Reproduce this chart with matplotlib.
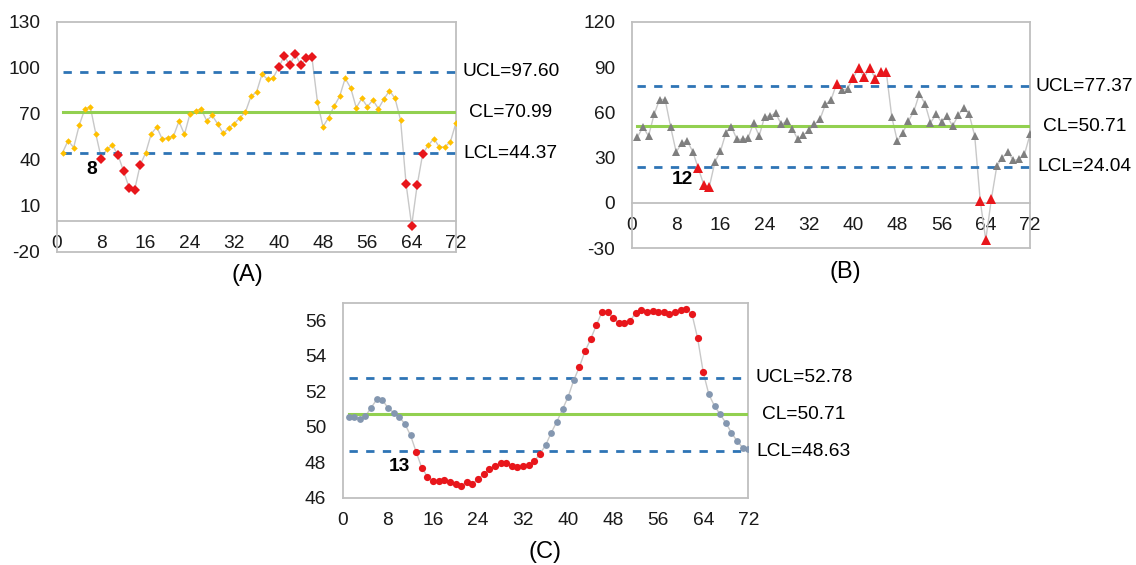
import matplotlib
matplotlib.use('Agg')
import matplotlib.pyplot as plt
import matplotlib.transforms as mtransforms
import numpy as np

plt.rcParams['font.family'] = ['Liberation Sans', 'DejaVu Sans']
plt.rcParams['axes.unicode_minus'] = False

# sample index 1..72
x = np.arange(1, 73)

# (A) diamonds
vals_a = [44.7, 52.5, 48.0, 62.5, 73.0, 74.7, 56.9, 40.8, 47.1, 49.5,
          43.2, 32.7, 21.9, 20.3, 36.6, 44.5, 56.9, 61.4, 53.4, 54.5,
          55.3, 65.1, 56.6, 70.1, 71.9, 73.2, 65.6, 69.0, 63.4, 57.3,
          60.8, 63.6, 67.5, 71.2, 81.4, 84.2, 96.0, 92.5, 93.4, 100.4,
          107.7, 101.9, 109.0, 101.9, 106.2, 106.9, 77.7, 61.6, 67.5, 74.9,
          81.4, 93.2, 86.9, 74.0, 80.1, 74.7, 79.0, 73.4, 79.7, 85.1,
          80.1, 66.0, 24.0, -2.9, 23.6, 44.0, 49.5, 53.8, 48.4, 48.4,
          51.9, 64.2]
limits_a = [97.60, 70.99, 44.37]

# (B) triangles
vals_b = [43.7, 50.3, 44.3, 58.6, 68.5, 68.5, 50.3, 33.7, 39.5, 41.0,
          34.0, 23.0, 12.0, 10.8, 27.1, 34.2, 46.5, 50.3, 42.1, 42.1,
          43.0, 53.1, 44.3, 57.1, 57.5, 59.7, 52.0, 54.2, 49.2, 42.1,
          45.0, 48.3, 52.0, 55.3, 65.3, 68.1, 78.9, 74.7, 75.6, 82.7,
          89.5, 83.1, 89.5, 82.4, 86.8, 86.8, 56.9, 41.0, 46.5, 54.2,
          60.8, 72.3, 65.7, 53.1, 58.6, 53.6, 57.5, 50.9, 58.0, 63.0,
          58.6, 44.3, 1.3, -24.4, 2.4, 24.5, 30.0, 33.7, 28.2, 28.9,
          32.2, 45.4]
limits_b = [77.37, 50.71, 24.04]

# (C) circles
vals_c = [50.58, 50.58, 50.43, 50.62, 51.08, 51.55, 51.51, 51.08, 50.80, 50.56,
          50.17, 49.53, 48.60, 47.70, 47.21, 46.93, 46.93, 47.00, 46.88, 46.78,
          46.69, 46.88, 46.80, 47.07, 47.35, 47.66, 47.78, 47.96, 47.96, 47.81,
          47.76, 47.78, 47.85, 48.06, 48.50, 48.97, 49.68, 50.30, 50.99, 51.70,
          52.64, 53.38, 54.26, 54.95, 55.72, 56.47, 56.47, 56.13, 55.85, 55.85,
          55.98, 56.41, 56.60, 56.50, 56.54, 56.50, 56.47, 56.35, 56.45, 56.60,
          56.63, 56.35, 55.00, 53.08, 51.83, 51.18, 50.71, 50.24, 49.68, 49.21,
          48.84, 48.75]
limits_c = [52.78, 50.71, 48.63]

xticks = np.arange(0, 73, 8)
GREY = '#BFBFBF'
RED = '#E8161B'
FS = 13.8

fig = plt.figure(figsize=(11.36, 5.65), dpi=100)


def panel(rect, vals, limits, ylim, yticks, marker, color, ms, red_ms, zero_axis, note, note_xy, tag, tag_xy):
    ax = fig.add_axes(rect)
    v = np.array(vals)
    ucl, cl, lcl = limits
    out = (v > ucl) | (v < lcl)

    ax.plot(x, v, color='#C8C8C8', lw=1.0, zorder=2)
    ax.plot([x[0], x[-1]], [ucl, ucl], color='#2E74B5', lw=2.0, dashes=(3, 3), zorder=3)
    ax.plot([x[0], x[-1]], [lcl, lcl], color='#2E74B5', lw=2.0, dashes=(3, 3), zorder=3)
    ax.plot([x[0], x[-1]], [cl, cl], color='#92D050', lw=2.2, zorder=3)
    ax.plot(x[~out], v[~out], ls='none', marker=marker, color=color, ms=ms, mew=0, zorder=4)
    ax.plot(x[out], v[out], ls='none', marker=marker, color=RED, ms=red_ms, mew=0, zorder=5)

    ax.set_xlim(0, 72)
    ax.set_ylim(*ylim)
    ax.set_xticks(xticks)
    ax.set_yticks(yticks)
    ax.tick_params(length=0, labelsize=FS, colors='#1A1A1A')
    ax.tick_params(axis='x', pad=10)
    ax.tick_params(axis='y', pad=12)
    for s in ax.spines.values():
        s.set_color(GREY)
        s.set_linewidth(1.3)
    if zero_axis:
        # excel style: category axis crosses at 0, frame closes at the bottom
        ax.spines['bottom'].set_position(('data', 0))
        ax.axhline(ylim[0], color=GREY, lw=1.3, clip_on=False)

    tr = mtransforms.blended_transform_factory(ax.transAxes, ax.transData)
    for name, val in zip(['UCL', 'CL', 'LCL'], limits):
        ax.text(1.137, val, '%s=%.2f' % (name, val), transform=tr, ha='center', va='center', fontsize=FS)

    ax.text(note_xy[0], note_xy[1], note, fontsize=FS, fontweight='bold', ha='center', va='center')
    fig.text(tag_xy[0], tag_xy[1], tag, fontsize=17, ha='center', va='center')
    return ax


panel([0.0502, 0.5545, 0.3512, 0.4066], vals_a, limits_a, (-20, 130), np.arange(-20, 131, 30),
      'D', '#FFC000', 3.3, 4.8, True, '8', (6.3, 33.4), '(A)', (247 / 1136, 1 - 275 / 565))
panel([0.5563, 0.5605, 0.3504, 0.4011], vals_b, limits_b, (-30, 120), np.arange(-30, 121, 30),
      '^', '#7F7F7F', 5.6, 7.8, True, '12', (9.2, 15.7), '(B)', (845 / 1136, 1 - 272 / 565))
panel([0.3019, 0.1186, 0.3568, 0.3457], vals_c, limits_c, (46, 57), np.arange(46, 57, 2),
      'o', '#8497B0', 4.9, 5.2, False, '13', (9.95, 47.76), '(C)', (545 / 1136, 1 - 552 / 565))

plt.savefig('out.png', dpi=100)
